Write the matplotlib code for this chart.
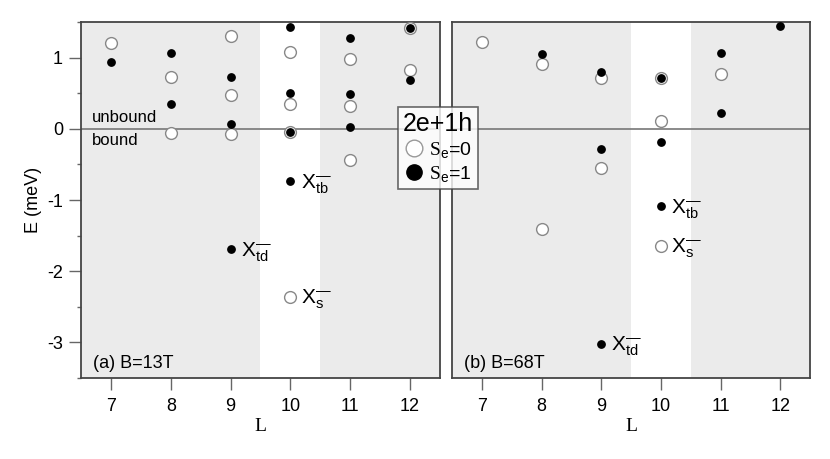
import matplotlib
matplotlib.use("Agg")
import matplotlib.pyplot as plt
from matplotlib.lines import Line2D

plt.rcParams['font.family'] = ['Liberation Sans', 'DejaVu Sans']
plt.rcParams['mathtext.fontset'] = 'custom'
plt.rcParams['mathtext.rm'] = 'Liberation Serif'
plt.rcParams['mathtext.sf'] = 'Liberation Sans'
plt.rcParams['mathtext.it'] = 'Liberation Sans:italic'

# Panel (a) B=13T
a_open_L = [7, 8, 8, 9, 9, 9, 10, 10, 10, 10, 11, 11, 11, 12, 12]
a_open_E = [1.20, 0.73, -0.06, 1.30, 0.48, -0.075, 1.08, 0.355, -0.04, -2.36, 0.98, 0.32, -0.44, 1.41, 0.82]
a_fill_L = [7, 8, 8, 9, 9, 9, 10, 10, 10, 10, 11, 11, 11, 12, 12]
a_fill_E = [0.935, 1.07, 0.35, 0.725, 0.07, -1.69, 1.43, 0.505, -0.04, -0.74, 1.28, 0.49, 0.03, 1.41, 0.68]

# Panel (b) B=68T
b_open_L = [7, 8, 8, 9, 9, 10, 10, 10, 11]
b_open_E = [1.22, 0.91, -1.41, 0.71, -0.55, 0.715, 0.116, -1.64, 0.776]
b_fill_L = [8, 9, 9, 9, 10, 10, 10, 11, 11, 12]
b_fill_E = [1.05, 0.795, -0.285, -3.02, 0.715, -0.19, -1.09, 1.06, 0.22, 1.45]

# annotations: (L, E, label)
a_labels = [(9, -1.69, 'td'), (10, -0.74, 'tb'), (10, -2.36, 's')]
b_labels = [(9, -3.02, 'td'), (10, -1.09, 'tb'), (10, -1.64, 's')]

L_ticks = [7, 8, 9, 10, 11, 12]

fig = plt.figure(figsize=(8.3, 4.59), dpi=100)
ax1 = fig.add_axes([0.0976, 0.1765, 0.4325, 0.7755])
ax2 = fig.add_axes([0.5446, 0.1765, 0.4313, 0.7755])

gray = '#ebebeb'
spine_c = '#444444'
tick_c = '#666666'

def setup(ax, oL, oE, fL, fE, labels, title, yticks):
    ax.set_xlim(6.5, 12.5)
    ax.set_ylim(-3.5, 1.5)
    ax.set_facecolor('white')
    ax.axvspan(6.5, 9.5, color=gray, lw=0, zorder=0)
    ax.axvspan(10.5, 12.5, color=gray, lw=0, zorder=0)
    ax.axhline(0, color='#777777', lw=1.2, zorder=1)
    ax.scatter(oL, oE, s=72, facecolors='white', edgecolors='#888888', linewidths=1.0, zorder=3)
    ax.scatter(fL, fE, s=28, color='black', zorder=4)
    for L, E, sub in labels:
        ax.text(L + 0.17, E - 0.04, r'$\mathsf{X}^{\mathsf{—}}_{\mathsf{%s}}$' % sub, fontsize=15,
                ha='left', va='center', zorder=5)
    ax.text(0.033, 0.028, title, transform=ax.transAxes, fontsize=13, ha='left', va='baseline')
    for s in ax.spines.values():
        s.set_color(spine_c)
        s.set_linewidth(1.3)
    ax.set_xticks(L_ticks)
    ax.set_xticklabels([str(t) for t in L_ticks], fontsize=13)
    ax.tick_params(axis='x', direction='out', length=8.6, width=1, color=tick_c, pad=6)
    ax.set_xlabel('L', family='Liberation Serif', fontsize=14, labelpad=2)
    if yticks:
        ax.set_yticks([-3, -2, -1, 0, 1])
        ax.set_yticklabels(['-3', '-2', '-1', '0', '1'], fontsize=13)
        ax.set_yticks([-3.5, -2.5, -1.5, -0.5, 0.5, 1.5], minor=True)
        ax.tick_params(axis='y', which='major', direction='out', length=9, width=1, color=tick_c, pad=4)
        ax.tick_params(axis='y', which='minor', direction='out', length=3, width=1, color=tick_c)
        ax.set_ylabel('E (meV)', fontsize=13, labelpad=4)
    else:
        ax.set_yticks([])

setup(ax1, a_open_L, a_open_E, a_fill_L, a_fill_E, a_labels, '(a) B=13T', True)
setup(ax2, b_open_L, b_open_E, b_fill_L, b_fill_E, b_labels, '(b) B=68T', False)

ax1.text(6.68, 0.16, 'unbound', fontsize=12, ha='left', va='center')
ax1.text(6.68, -0.16, 'bound', fontsize=12, ha='left', va='center')

handles = [
    Line2D([], [], marker='o', ls='none', markersize=12, markerfacecolor='white',
           markeredgecolor='#999999', markeredgewidth=1.0),
    Line2D([], [], marker='o', ls='none', markersize=11, markerfacecolor='black',
           markeredgecolor='black'),
]
leg = fig.legend(handles, [r'$\mathrm{S}_{\mathsf{e}}$=0', r'$\mathrm{S}_{\mathsf{e}}$=1'],
                 title='2e+1h', loc='upper left', bbox_to_anchor=(398 / 830, 1 - 107 / 459),
                 fontsize=14, title_fontsize=18, frameon=True, fancybox=False,
                 handletextpad=0.25, handlelength=1.0, borderpad=0.25, labelspacing=0.2,
                 borderaxespad=0)
leg.get_frame().set_edgecolor('#444444')
leg.get_frame().set_linewidth(1.2)
leg.set_zorder(10)

fig.savefig('out.png', dpi=100)
